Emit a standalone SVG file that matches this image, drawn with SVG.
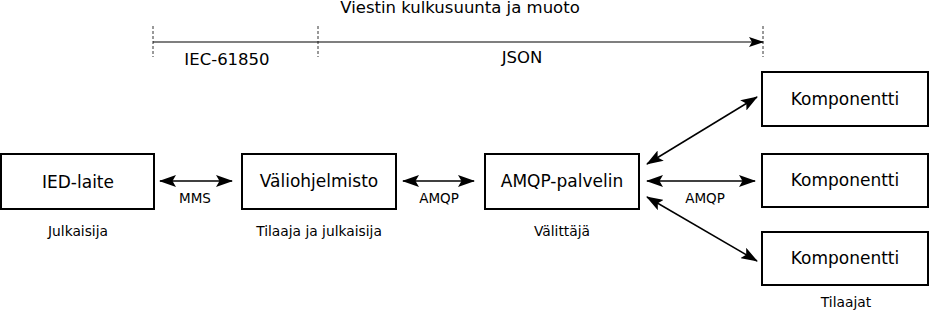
<svg xmlns="http://www.w3.org/2000/svg" width="930" height="312" viewBox="0 0 930 312">
  <style>
    .box { fill: #fff; stroke: #000; stroke-width: 2; }
    .name { font-family: "DejaVu Sans", sans-serif; font-size: 17px; text-anchor: middle; fill: #000; }
    .role { font-family: "DejaVu Sans", sans-serif; font-size: 13.8px; text-anchor: middle; fill: #000; }
    .proto { font-family: "DejaVu Sans", sans-serif; font-size: 13.5px; text-anchor: middle; fill: #000; }
    .head { font-family: "DejaVu Sans", sans-serif; font-size: 16.5px; text-anchor: middle; fill: #000; }
    .link { stroke: #000; stroke-width: 1.5; fill: none; marker-start: url(#tip); marker-end: url(#tip); }
    .tick { stroke: #000; stroke-width: 0.8; stroke-dasharray: 3 2; }
  </style>
  <defs>
    <marker id="tip" viewBox="0 0 17 12" refX="16" refY="6" markerWidth="17" markerHeight="12" markerUnits="userSpaceOnUse" orient="auto-start-reverse">
      <path d="M0,0 L17,6 L0,12 L3.5,6 Z" fill="#000"/>
    </marker>
    <marker id="tipEnd" viewBox="0 0 15 10" refX="14" refY="5" markerWidth="15" markerHeight="10" markerUnits="userSpaceOnUse" orient="auto">
      <path d="M0,0 L15,5 L0,10 L3,5 Z" fill="#000"/>
    </marker>
  </defs>

  <!-- message direction and format timeline -->
  <g id="timeline">
    <text class="head" x="460" y="13">Viestin kulkusuunta ja muoto</text>
    <line class="tick" x1="153" y1="26" x2="153" y2="57"/>
    <line class="tick" x1="318" y1="26" x2="318" y2="57"/>
    <line class="tick" x1="763" y1="26" x2="763" y2="57"/>
    <line x1="153" y1="42" x2="763" y2="42" stroke="#000" stroke-width="1.2" marker-end="url(#tipEnd)"/>
    <text class="head" x="227" y="65">IEC-61850</text>
    <text class="head" x="522" y="63">JSON</text>
  </g>

  <!-- nodes -->
  <g id="ied">
    <rect class="box" x="1" y="154" width="153" height="55"/>
    <text class="name" x="78" y="188">IED-laite</text>
    <text class="role" x="78" y="236">Julkaisija</text>
  </g>
  <g id="middleware">
    <rect class="box" x="242" y="154" width="154" height="55"/>
    <text class="name" x="319" y="187">Väliohjelmisto</text>
    <text class="role" x="319" y="236">Tilaaja ja julkaisija</text>
  </g>
  <g id="broker">
    <rect class="box" x="485" y="154" width="154" height="55"/>
    <text class="name" x="562" y="187">AMQP-palvelin</text>
    <text class="role" x="562" y="236">Välittäjä</text>
  </g>
  <g id="component1">
    <rect class="box" x="762" y="72" width="166" height="54"/>
    <text class="name" x="845" y="105">Komponentti</text>
  </g>
  <g id="component2">
    <rect class="box" x="762" y="154" width="166" height="53"/>
    <text class="name" x="845" y="186">Komponentti</text>
  </g>
  <g id="component3">
    <rect class="box" x="762" y="232" width="166" height="53"/>
    <text class="name" x="845" y="264">Komponentti</text>
    <text class="role" x="846" y="307">Tilaajat</text>
  </g>

  <!-- connectors -->
  <g id="connectors">
    <line class="link" x1="160" y1="181" x2="232" y2="181"/>
    <text class="proto" x="195" y="203">MMS</text>
    <line class="link" x1="403" y1="181" x2="474" y2="181"/>
    <text class="proto" x="439" y="203">AMQP</text>
    <line class="link" x1="647" y1="181" x2="755" y2="181"/>
    <text class="proto" x="705" y="203">AMQP</text>
    <line class="link" x1="647" y1="164" x2="757" y2="97"/>
    <line class="link" x1="647" y1="197" x2="757" y2="261"/>
  </g>
</svg>
